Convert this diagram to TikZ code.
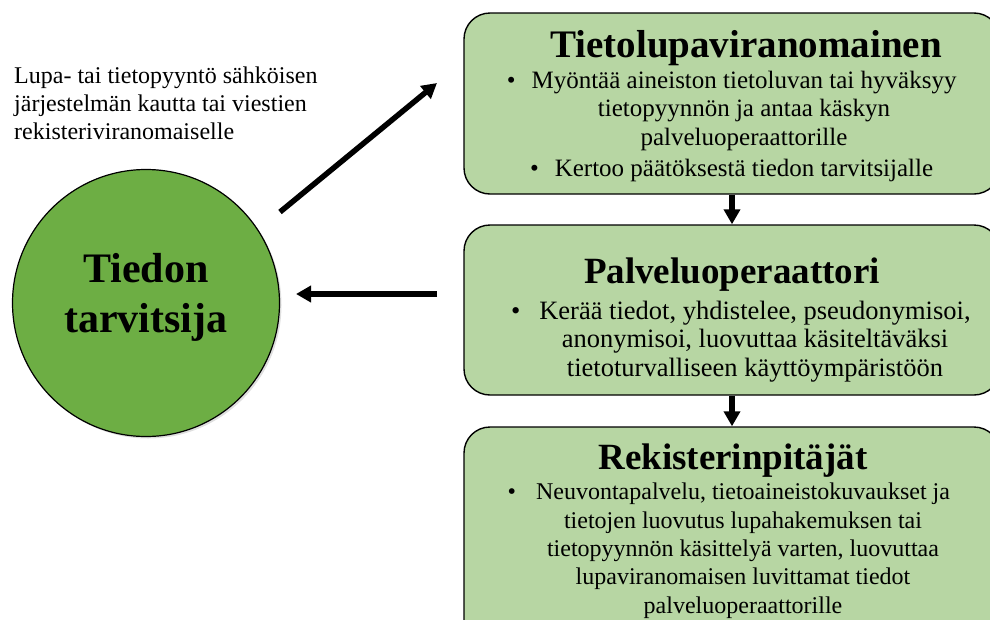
\documentclass[tikz,border=0pt]{standalone}
\usepackage{fontspec}
\setmainfont{Liberation Serif}
\usepackage{xcolor}
\usetikzlibrary{shapes.geometric, arrows.meta, positioning, calc, shadows}

\definecolor{tummavihrea}{HTML}{6DAE44}
\definecolor{vaaleavihrea}{HTML}{B7D6A3}

\begin{document}
\begin{tikzpicture}[
    x=1pt, y=-1pt,
    laatikko/.style={rectangle, rounded corners=26pt, draw=black, line width=1.4pt, fill=vaaleavihrea, minimum width=536pt},
    otsikko/.style={font=\fontsize{39}{44}\selectfont\bfseries, inner sep=0pt, anchor=base},
    teksti/.style={font=\fontsize{26.5}{28.3}\selectfont, align=center, inner sep=0pt, anchor=base},
    ympyra/.style={circle, draw=black, line width=1.2pt, fill=tummavihrea, minimum size=267pt, align=center, text depth=20pt, font=\fontsize{42}{50}\selectfont\bfseries, drop shadow={opacity=0.25, shadow xshift=2pt, shadow yshift=-2pt}},
    nuoli/.style={-{Triangle[length=15pt, width=16pt]}, line width=5.5pt}
]
\useasboundingbox (0,0) rectangle (990,619);
\clip (0,0) rectangle (990,619);

% ==========================================
% VASEN: TIEDON TARVITSIJA
% ==========================================
\node[ympyra] (tt) at (146,303) {Tiedon\\tarvitsija};
\node[font=\fontsize{24}{28}\selectfont, align=left, inner sep=0pt, anchor=base west] (pyynto) at (14,139)
    {Lupa- tai tietopyyntö sähköisen\\järjestelmän kautta tai viestien\\rekisteriviranomaiselle};

% ==========================================
% OIKEA: LAATIKOT
% ==========================================
\node[laatikko, minimum height=181pt] (t1) at (732,103.5) {};
\node[laatikko, minimum height=170pt] (t2) at (732,310) {};
\node[laatikko, minimum height=220pt] (t3) at (732,537) {};

\node[otsikko] (t1o) at (746,57) {Tietolupaviranomainen};
\node[teksti, font=\fontsize{25}{28.3}\selectfont] (t1t) at (744,176) {\llap{\textbullet\hspace{16pt}}Myöntää aineiston tietoluvan tai hyväksyy\\tietopyynnön ja antaa käskyn\\palveluoperaattorille\\[2.7pt]\llap{\textbullet\hspace{16pt}}Kertoo päätöksestä tiedon tarvitsijalle};

\node[otsikko, font=\fontsize{37}{44}\selectfont\bfseries] (t2o) at (732,283) {Palveluoperaattori};
\node[teksti] (t2t) at (755,376) {\llap{\textbullet\hspace{19pt}}Kerää tiedot, yhdistelee, pseudonymisoi,\\anonymisoi, luovuttaa käsiteltäväksi\\tietoturvalliseen käyttöympäristöön};

\node[otsikko, font=\fontsize{37}{44}\selectfont\bfseries] (t3o) at (733,469) {Rekisterinpitäjät};
\node[teksti, font=\fontsize{24}{28.3}\selectfont] (t3t) at (743,613) {\llap{\textbullet\hspace{20pt}}Neuvontapalvelu, tietoaineistokuvaukset ja\\tietojen luovutus lupahakemuksen tai\\tietopyynnön käsittelyä varten, luovuttaa\\lupaviranomaisen luvittamat tiedot\\palveluoperaattorille};

% ==========================================
% NUOLET
% ==========================================
\coordinate (n1a) at (280,212);
\coordinate (n1b) at (437,83);
\coordinate (n2a) at (437,294);
\coordinate (n2b) at (296,294);
\draw[nuoli] (n1a) -- (n1b);
\draw[nuoli] (n2a) -- (n2b);

\foreach \i/\j in {t1/t2,t2/t3} {
    \draw[nuoli] (\i) -- (\j);
}

\end{tikzpicture}
\end{document}
